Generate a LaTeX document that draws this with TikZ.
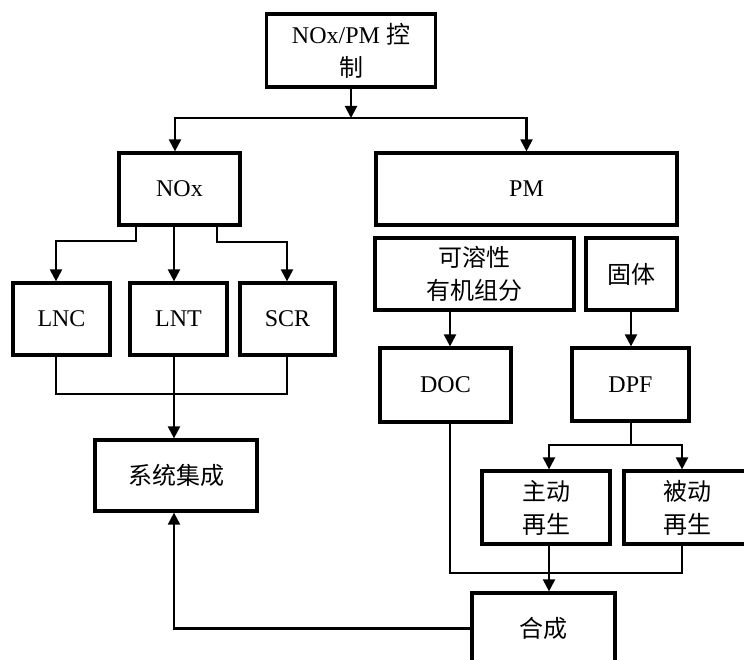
\documentclass[tikz,border=0pt]{standalone}
\usepackage{fontspec}
\setmainfont{Liberation Serif}
\newfontfamily\cjk{Noto Sans CJK SC}
\usetikzlibrary{arrows.meta}
\begin{document}
\begin{tikzpicture}[x=1pt,y=-1pt,
  blk/.style={draw=black, line width=3.2pt, inner sep=0pt, align=center,
    font=\fontsize{24}{33}\selectfont},
  con/.style={line width=2.1pt},
  arr/.style={con, -{Triangle[width=12pt,length=12pt]}}]
\clip (0,0) rectangle (744,660);
\fill[white] (0,0) rectangle (744,660);

% nodes
\node[blk, minimum width=169pt, minimum height=73pt] (top) at (351,50.5) {NOx/PM {\cjk 控}\\{\cjk 制}};
\node[blk, minimum width=121pt, minimum height=72pt] (nox) at (179.5,189) {NOx};
\node[blk, minimum width=301pt, minimum height=72pt] (pm) at (526.5,189) {PM};
\node[blk, minimum width=97pt, minimum height=72pt] (lnc) at (61.5,319) {LNC};
\node[blk, minimum width=97pt, minimum height=72pt] (lnt) at (178.5,319) {LNT};
\node[blk, minimum width=95pt, minimum height=72pt] (scr) at (287.5,319) {SCR};
\node[blk, minimum width=162pt, minimum height=71pt] (sys) at (176,475.5) {\cjk 系统集成};
\node[blk, minimum width=199pt, minimum height=72pt] (sol) at (474.5,274) {\cjk 可溶性\\\cjk 有机组分};
\node[blk, minimum width=91pt, minimum height=72pt] (solid) at (631.5,274) {\cjk 固体};
\node[blk, minimum width=131pt, minimum height=74pt] (doc) at (445.5,385) {DOC};
\node[blk, minimum width=117pt, minimum height=73pt] (dpf) at (630.5,384.5) {DPF};
\node[blk, minimum width=128pt, minimum height=73pt] (act) at (546,507.5) {\cjk 主动\\\cjk 再生};
\node[blk, minimum width=126pt, minimum height=73pt] (pas) at (687,507.5) {\cjk 被动\\\cjk 再生};
\node[blk, minimum width=143pt, minimum height=71pt] (syn) at (543.5,628.5) {\cjk 合成};

% junction coordinates
\coordinate (split) at (351,118);
\coordinate (merge) at (174,394);
\coordinate (dsplit) at (631,445);
\coordinate (join) at (549,573);

% connectors
\draw[arr] (top.south) -- (split);
\draw[arr] (split) -| ([xshift=-4.5pt]nox.north);
\draw[arr] (split) -| (pm.north);

\draw[arr] ([xshift=-43.5pt]nox.south) -- ++(0,14) -| ([xshift=-5.5pt]lnc.north);
\draw[arr] ([xshift=-5.5pt]nox.south) -- ([xshift=-4.5pt]lnt.north);
\draw[arr] ([xshift=37.5pt]nox.south) -- ++(0,15) -| ([xshift=-0.5pt]scr.north);

\draw[con] ([xshift=-5.5pt]lnc.south) |- (merge) -| ([xshift=-0.5pt]scr.south);
\draw[arr] ([xshift=-4.5pt]lnt.south) -- ([xshift=-2pt]sys.north);

\draw[arr] ([xshift=-24.5pt]sol.south) -- ([xshift=4.5pt]doc.north);
\draw[arr] ([xshift=-0.5pt]solid.south) -- ([xshift=0.5pt]dpf.north);

\draw[con] ([xshift=0.5pt]dpf.south) -- (dsplit);
\draw[arr] (dsplit) -| ([xshift=3pt]act.north);
\draw[arr] (dsplit) -| ([xshift=-5pt]pas.north);

\draw[con] ([xshift=4.5pt]doc.south) |- (join) -| ([xshift=-5pt]pas.south);
\draw[arr] ([xshift=3pt]act.south) -- ([xshift=5.5pt]syn.north);

\draw[arr] (syn.west) -| ([xshift=-2pt]sys.south);
\end{tikzpicture}
\end{document}
